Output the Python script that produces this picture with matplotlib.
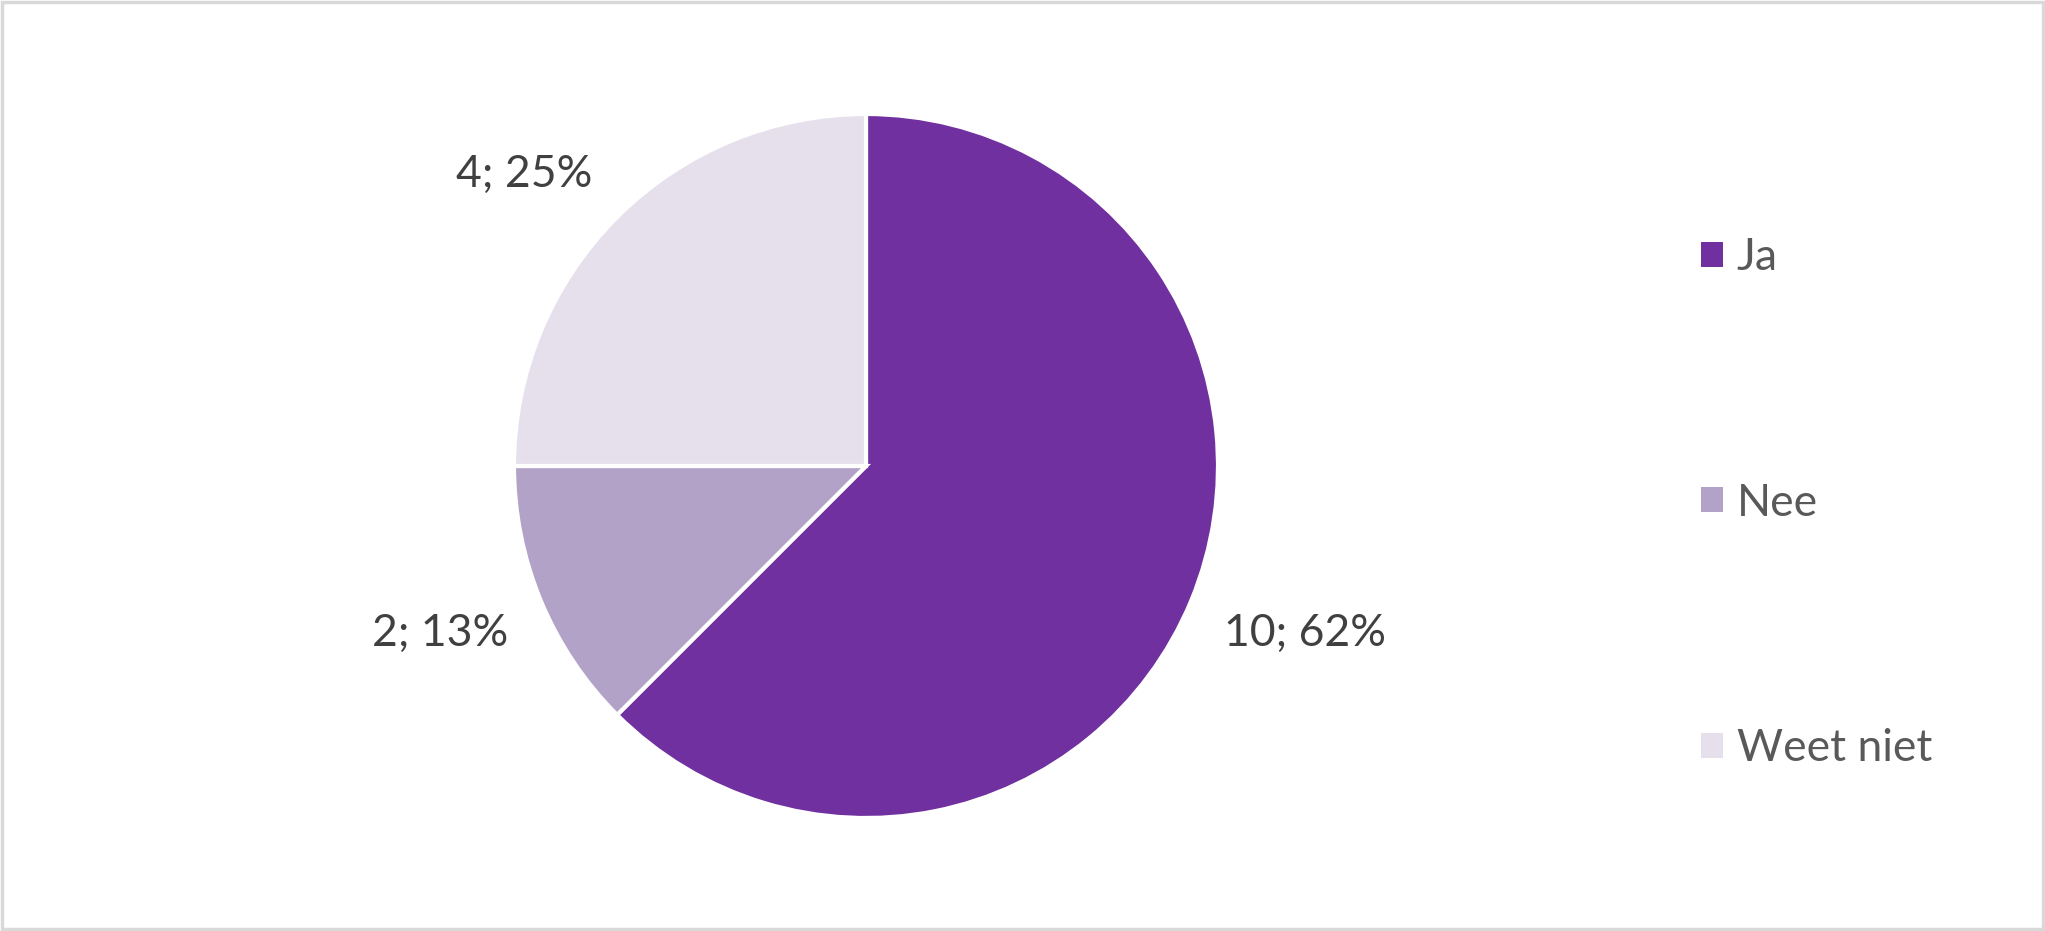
import matplotlib.pyplot as plt
import numpy as np

categories = ['Ja', 'Nee', 'Weet niet']
counts = [10, 2, 4]
pct_labels = ['62%', '13%', '25%']
colors = ['#7030A0', '#B3A2C7', '#E6E0EC']

plt.rcParams['font.family'] = ['Lato', 'DejaVu Sans']

W, H = 2045, 931
fig = plt.figure(figsize=(W / 100, H / 100), dpi=100, facecolor='white')

# pie axes: centre (866, 466) px, radius 352 px
cx, cy, r = 866, 466, 352
ax = fig.add_axes([(cx - r) / W, (H - cy - r) / H, 2 * r / W, 2 * r / H])

wedges, _ = ax.pie(counts, colors=colors, startangle=90, counterclock=False,
                   wedgeprops=dict(edgecolor='white', linewidth=3))
ax.set_xlim(-1, 1)
ax.set_ylim(-1, 1)
ax.set_aspect('equal')
ax.axis('off')

# data labels just outside the slices, corner anchored like Excel's best fit
for w, n, p in zip(wedges, counts, pct_labels):
    mid = np.deg2rad((w.theta1 + w.theta2) / 2)
    x, y = np.cos(mid), np.sin(mid)
    ax.text(1.10 * x, 1.09 * y, f'{n}; {p}',
            ha='left' if x > 0 else 'right',
            va='top' if y < 0 else 'bottom',
            fontsize=32, color='#404040', clip_on=False)

leg = fig.legend(wedges, categories, loc='center left',
                 bbox_to_anchor=(1661 / W, 1 - 503 / H), frameon=False,
                 fontsize=32, labelcolor='#595959', labelspacing=4.6,
                 handlelength=0.5, handleheight=0.5, handletextpad=0.3)
for h in leg.legend_handles:
    h.set_edgecolor('none')

# thin grey border around the chart area
fig.patches.append(plt.Rectangle((0.001, 0.002), 0.998, 0.996,
                                 transform=fig.transFigure, fill=False,
                                 edgecolor='#D9D9D9', linewidth=2.5))

fig.savefig('out.png', dpi=100, facecolor='white')
